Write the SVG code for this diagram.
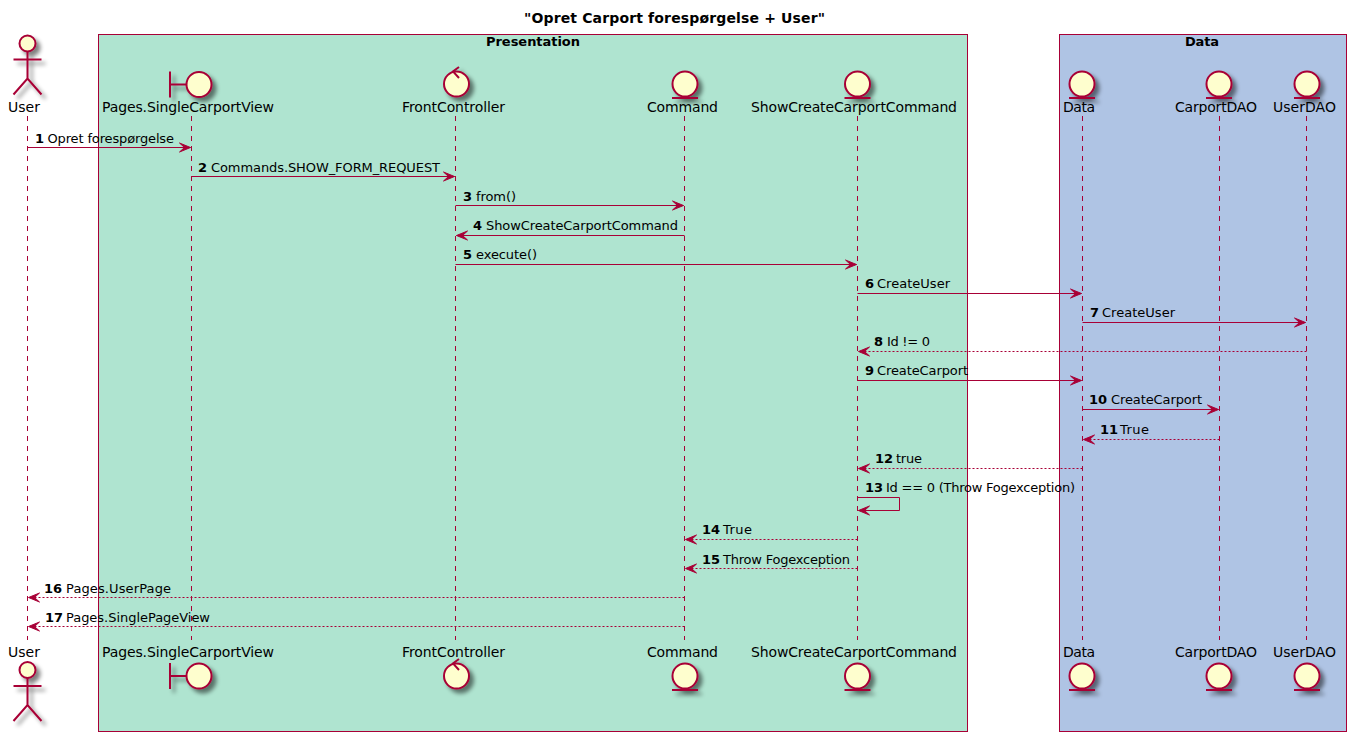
<svg xmlns="http://www.w3.org/2000/svg" width="1356" height="741" viewBox="0 0 1356 741">
<style>
text{font-family:"DejaVu Sans",sans-serif;fill:#000}
.p{font-size:14px}
.m{font-size:13px}
.n{font-size:13px;font-weight:bold}
.b{font-size:13px;font-weight:bold}
.t{font-size:14px;font-weight:bold}
.box{stroke:#A80036;stroke-width:1}
.life{stroke:#A80036;stroke-width:1;stroke-dasharray:5,5;fill:none}
.i{fill:#FEFECE;stroke:#A80036;stroke-width:2}
.l{fill:none;stroke:#A80036;stroke-width:2}
.a{fill:none;stroke:#A80036;stroke-width:1;marker-end:url(#h)}
.d{stroke-dasharray:2,2}
.s{filter:url(#sh)}
</style>
<defs>
<filter id="sh" x="-50%" y="-50%" width="200%" height="200%">
<feGaussianBlur in="SourceAlpha" stdDeviation="2" result="b"/>
<feOffset in="b" dx="4" dy="4" result="o"/>
<feComponentTransfer in="o" result="c"><feFuncA type="linear" slope="0.5"/></feComponentTransfer>
<feMerge><feMergeNode in="c"/><feMergeNode in="SourceGraphic"/></feMerge>
</filter>
<marker id="h" markerUnits="userSpaceOnUse" markerWidth="14" markerHeight="14" refX="12" refY="6" orient="auto" overflow="visible">
<path d="M12,6 L1,1.5 L6,6 L1,10.5 Z" fill="#A80036" stroke="#A80036" stroke-width="1"/>
</marker>
<g id="actorIcon" class="s"><circle class="i" cx="0" cy="8" r="8"/><path class="l" d="M0,16V43M-14,24H14M-14,59L0,43L14,59"/></g>
<g id="boundaryIcon" class="s"><path class="l" d="M-29,0V26M-29,13H-12"/><circle class="i" cx="0" cy="13" r="12.5"/></g>
<g id="controlIcon" class="s"><circle class="i" cx="0" cy="13" r="12.5"/><path class="l" d="M2.5,-4L-3.5,0.5L2.5,7"/></g>
<g id="entityIcon" class="s"><circle class="i" cx="0" cy="13" r="12.5"/><path class="l" d="M-13,27H13"/></g>
</defs>
<rect width="1356" height="741" fill="#fff"/>
<text class="t" x="524" y="23" textLength="301">"Opret Carport forespørgelse + User"</text>
<g id="box-presentation"><rect class="box" x="98.5" y="34.5" width="869" height="697" fill="#AFE4D0"/><text class="b" x="486" y="46" textLength="94">Presentation</text></g>
<g id="box-data"><rect class="box" x="1059.5" y="34.5" width="287" height="697" fill="#AFC4E4"/><text class="b" x="1185" y="46" textLength="34">Data</text></g>
<g id="connectors">
<path class="life" d="M27.5,116V640"/>
<path class="life" d="M191.5,116V640"/>
<path class="life" d="M455.5,116V640"/>
<path class="life" d="M684.5,116V640"/>
<path class="life" d="M857.5,116V640"/>
<path class="life" d="M1082.5,116V640"/>
<path class="life" d="M1219.5,116V640"/>
<path class="life" d="M1306.5,116V640"/>
<path class="a" d="M27.5,147.5H190.5"/>
<path class="a" d="M191.5,176.5H454.5"/>
<path class="a" d="M455.5,205.5H683.5"/>
<path class="a" d="M684.5,235.5H456.5"/>
<path class="a" d="M455.5,264.5H856.5"/>
<path class="a" d="M857.5,293.5H1081.5"/>
<path class="a" d="M1082.5,322.5H1305.5"/>
<path class="a d" d="M1306.5,351.5H858.5"/>
<path class="a" d="M857.5,380.5H1081.5"/>
<path class="a" d="M1082.5,409.5H1218.5"/>
<path class="a d" d="M1219.5,439.5H1083.5"/>
<path class="a d" d="M1082.5,468.5H858.5"/>
<path class="a" d="M857.5,497.5H899.5V510.5H858.5"/>
<path class="a d" d="M857.5,539.5H685.5"/>
<path class="a d" d="M857.5,568.5H685.5"/>
<path class="a d" d="M684.5,597.5H28.5"/>
<path class="a d" d="M684.5,626.5H28.5"/>
</g>
<g id="User"><use href="#actorIcon" x="27.5" y="35.5"/><text class="p" x="8" y="112" textLength="32">User</text><text class="p" x="8" y="657" textLength="32">User</text><use href="#actorIcon" x="27.5" y="662"/></g>
<g id="SingleCarportView"><use href="#boundaryIcon" x="199" y="71.5"/><text class="p" x="102" y="112" textLength="172">Pages.SingleCarportView</text><text class="p" x="102" y="657" textLength="172">Pages.SingleCarportView</text><use href="#boundaryIcon" x="199" y="663"/></g>
<g id="FrontController"><use href="#controlIcon" x="456.5" y="71"/><text class="p" x="402" y="112" textLength="103">FrontController</text><text class="p" x="402" y="657" textLength="103">FrontController</text><use href="#controlIcon" x="456.5" y="663"/></g>
<g id="Command"><use href="#entityIcon" x="685" y="71"/><text class="p" x="647" y="112" textLength="71">Command</text><text class="p" x="647" y="657" textLength="71">Command</text><use href="#entityIcon" x="685" y="663"/></g>
<g id="ShowCreateCarportCommand"><use href="#entityIcon" x="857.5" y="71"/><text class="p" x="751" y="112" textLength="206">ShowCreateCarportCommand</text><text class="p" x="751" y="657" textLength="206">ShowCreateCarportCommand</text><use href="#entityIcon" x="857.5" y="663"/></g>
<g id="Data"><use href="#entityIcon" x="1082" y="71"/><text class="p" x="1063" y="112" textLength="32">Data</text><text class="p" x="1063" y="657" textLength="32">Data</text><use href="#entityIcon" x="1082" y="663"/></g>
<g id="CarportDAO"><use href="#entityIcon" x="1219" y="71"/><text class="p" x="1175" y="112" textLength="82">CarportDAO</text><text class="p" x="1175" y="657" textLength="82">CarportDAO</text><use href="#entityIcon" x="1219" y="663"/></g>
<g id="UserDAO"><use href="#entityIcon" x="1307" y="71"/><text class="p" x="1273" y="112" textLength="63">UserDAO</text><text class="p" x="1273" y="657" textLength="63">UserDAO</text><use href="#entityIcon" x="1307" y="663"/></g>
<g id="labels">
<text class="n" x="35" y="143">1</text><text class="m" x="47.5" y="143" textLength="126.5">Opret forespørgelse</text>
<text class="n" x="198" y="172">2</text><text class="m" x="211" y="172" textLength="229">Commands.SHOW_FORM_REQUEST</text>
<text class="n" x="463" y="201">3</text><text class="m" x="476" y="201" textLength="40">from()</text>
<text class="n" x="473" y="230">4</text><text class="m" x="486" y="230" textLength="192">ShowCreateCarportCommand</text>
<text class="n" x="463" y="259">5</text><text class="m" x="476" y="259" textLength="61">execute()</text>
<text class="n" x="865" y="288">6</text><text class="m" x="877" y="288" textLength="73">CreateUser</text>
<text class="n" x="1090" y="317">7</text><text class="m" x="1102" y="317" textLength="73">CreateUser</text>
<text class="n" x="874" y="346">8</text><text class="m" x="887" y="346" textLength="43">Id != 0</text>
<text class="n" x="865" y="375">9</text><text class="m" x="877" y="375" textLength="91">CreateCarport</text>
<text class="n" x="1089" y="404">10</text><text class="m" x="1111" y="404" textLength="91">CreateCarport</text>
<text class="n" x="1100" y="434">11</text><text class="m" x="1120" y="434" textLength="29">True</text>
<text class="n" x="875" y="463">12</text><text class="m" x="896" y="463" textLength="26">true</text>
<text class="n" x="865" y="492">13</text><text class="m" x="886" y="492" textLength="189">Id == 0 (Throw Fogexception)</text>
<text class="n" x="702" y="534">14</text><text class="m" x="723" y="534" textLength="29">True</text>
<text class="n" x="702" y="564">15</text><text class="m" x="723" y="564" textLength="127">Throw Fogexception</text>
<text class="n" x="44" y="593">16</text><text class="m" x="66" y="593" textLength="105">Pages.UserPage</text>
<text class="n" x="45" y="622">17</text><text class="m" x="66" y="622" textLength="144">Pages.SinglePageView</text>
</g>
</svg>
